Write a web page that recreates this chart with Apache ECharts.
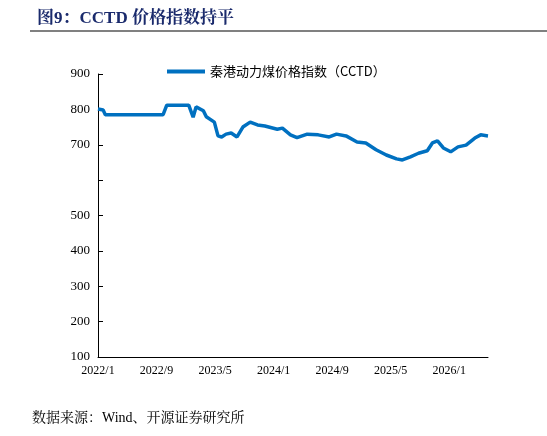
<!DOCTYPE html><html><head><meta charset="utf-8"><script src="https://cdn.jsdelivr.net/npm/echarts@6/dist/echarts.min.js"></script></head><body style="margin:0"><div id="c" style="width:547px;height:436px"></div><script>
const months=[0,0.7,1.0,8.9,9.4,12.4,13.0,13.4,14.4,14.8,15.9,16.4,16.9,17.5,18.2,19,19.8,20.8,21.8,22.8,24.5,25.2,26.3,27.2,28.6,30.1,31.6,32.6,33.9,35.4,36.6,38,39.4,40.8,41.6,42.7,43.8,45,45.7,46.4,47.2,48.2,49.2,50.3,51.5,52.3,53.3];
const values=[801,798,785,785,812,812,778,807,796,779,764,725,722,730,733,722,750,764,756,753,744,747,728,720,730,728,722,730,725,708,705,686,671,660,657,666,676,683,705,711,691,680,694,699,719,728,725];
const seriesName='秦港动力煤价格指数（CCTD）';
const serif='"Liberation Serif","Noto Serif CJK SC","Noto Sans CJK SC",serif';
const c=echarts.init(document.getElementById('c'));
c.setOption({
animation:false,
title:{text:'图9：CCTD 价格指数持平',left:32,top:5,textStyle:{color:'#1a2a6c',fontSize:17,fontWeight:'bold',fontFamily:serif}},
legend:{top:60,left:162,itemWidth:38,itemHeight:4,textStyle:{fontSize:13,color:'#000',fontFamily:'"Noto Sans CJK SC",sans-serif'},data:[{name:seriesName,icon:'rect'}]},
grid:{left:98,right:59,top:74,bottom:79},
xAxis:{type:'value',min:0,max:53.3,interval:8,axisLine:{lineStyle:{color:'#000'}},axisTick:{show:false},splitLine:{show:false},
 axisLabel:{color:'#000',fontFamily:serif,fontSize:12,showMaxLabel:false,formatter:v=>(2022+Math.floor(v/12))+'/'+(v%12+1)}},
yAxis:{type:'value',min:100,max:900,interval:100,axisLine:{show:true,lineStyle:{color:'#000'}},axisTick:{show:true,inside:true,lineStyle:{color:'#000'}},splitLine:{show:false},
 axisLabel:{color:'#000',fontFamily:serif,fontSize:13,formatter:v=>v===600?'':v}},
series:[{name:seriesName,type:'line',data:months.map((m,i)=>[m,values[i]]),showSymbol:false,lineStyle:{color:'#0070c0',width:3.5},itemStyle:{color:'#0070c0'}}],
graphic:[{type:'line',shape:{x1:30,y1:31,x2:547,y2:31},style:{stroke:'#808080',lineWidth:2}},
{type:'text',left:32,top:411,style:{text:'数据来源：Wind、开源证券研究所',font:'14px '+serif,fill:'#000'}}]
});
</script></body></html>
